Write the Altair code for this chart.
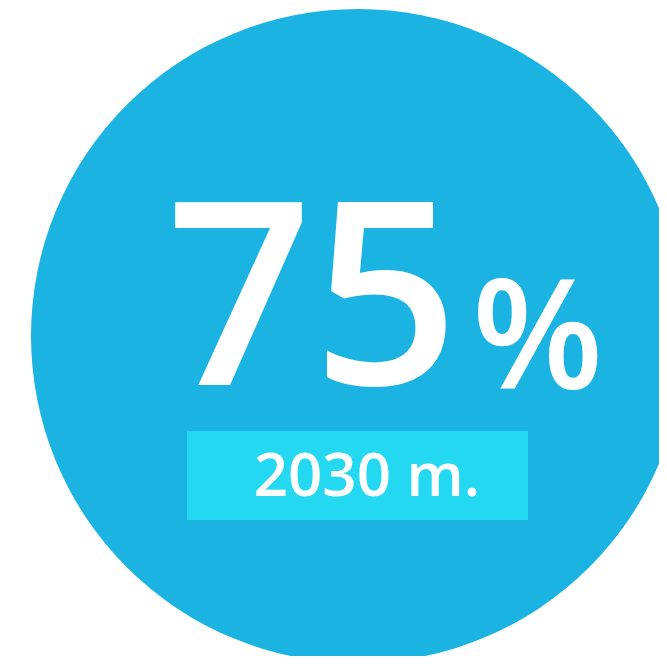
import altair as alt
import pandas as pd

# Data
share_values = [75]
share_units = ["%"]
year_labels = ["2030 m."]

df = pd.DataFrame({"value": share_values, "unit": share_units, "year": year_labels})

FONT = "Open Sans"
CIRCLE = "#1ab3e2"
BOX = "#24d8f2"

base = alt.Chart(df)

circle = base.mark_point(shape="circle", filled=True, opacity=1, strokeWidth=0).encode(
    x=alt.value(350), y=alt.value(328), size=alt.value(654 * 654), color=alt.value(CIRCLE)
)

box = base.mark_rect(color=BOX).encode(
    x=alt.value(179), x2=alt.value(520), y=alt.value(423), y2=alt.value(512)
)

big = base.mark_text(font=FONT, fontSize=256, fontWeight=600, color="white", align="left",
                     baseline="alphabetic").encode(
    x=alt.value(158), y=alt.value(377), text=alt.Text("value:Q")
)

pct = base.mark_text(font=FONT, fontSize=152, fontWeight=600, color="white", align="left",
                     baseline="alphabetic").encode(
    x=alt.value(464), y=alt.value(381), text="unit:N"
)

year = base.mark_text(font=FONT, fontSize=60, fontWeight=600, color="white", align="center",
                      baseline="alphabetic").encode(
    x=alt.value(359), y=alt.value(488), text="year:N"
)

chart = alt.layer(circle, box, big, pct, year).properties(
    width=651, height=648, autosize=alt.AutoSizeParams(type="none"), padding=0
).configure_view(stroke=None)

chart.save("out.html", embed_options={"renderer": "svg", "actions": False})
